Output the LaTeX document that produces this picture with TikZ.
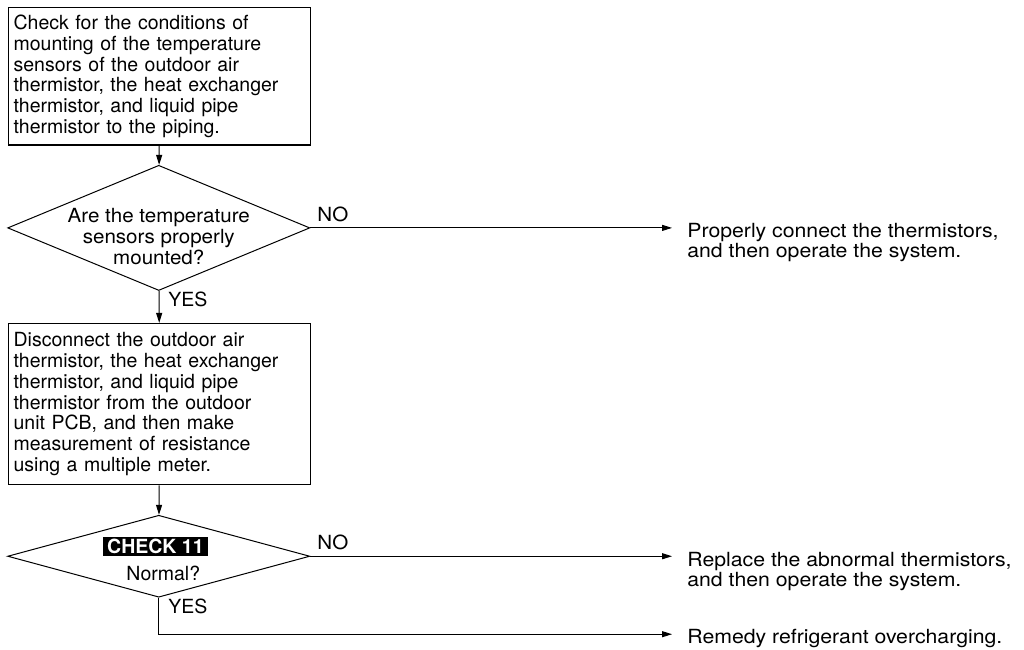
\documentclass[tikz,border=0pt]{standalone}
\usepackage{fontspec}
\setmainfont{TeX Gyre Heros}
\newfontfamily\qfont[FakeStretch=1.055]{TeX Gyre Heros}
\newfontfamily\widefont[FakeStretch=1.09]{TeX Gyre Heros}
\usetikzlibrary{arrows.meta,shapes.geometric}

\begin{document}
\begin{tikzpicture}[>={Triangle[length=5pt,width=3pt]}, line width=0.5pt,
  font=\fontsize{9.75}{10.4}\selectfont,
  stepbox/.style={draw, line width=0.65pt, anchor=north west, align=left,
    text width=146pt, inner xsep=2.5pt, inner ysep=3.5pt},
  query/.style={draw, diamond, minimum width=5.31cm, inner sep=0pt},
  fixtext/.style={anchor=north west, align=left, inner sep=0pt,
    font=\fontsize{9.75}{10}\widefont}]
  \useasboundingbox (0,0) rectangle (17.995,11.405);
  \node[stepbox, minimum height=2.41cm] (mount) at (0.14,11.28)
    {Check for the conditions of\\mounting of the temperature\\sensors of the outdoor air\\thermistor, the heat exchanger\\thermistor, and liquid pipe\\thermistor to the piping.};
  \node[query, minimum height=2.20cm] (q1) at (2.79,7.40) {};
  \node[align=center, inner sep=0pt, anchor=north, font=\fontsize{9.75}{10.6}\qfont] (q1txt) at (2.79,7.76)
    {Are the temperature\\sensors properly\\mounted?};
  \node[stepbox, minimum height=2.83cm] (meas) at (0.14,5.73)
    {Disconnect the outdoor air\\thermistor, the heat exchanger\\thermistor, and liquid pipe\\thermistor from the outdoor\\unit PCB, and then make\\measurement of resistance\\using a multiple meter.};
  \node[query, minimum height=1.44cm] (q2) at (2.79,1.63) {};
  \node[fill=black, text=white, font=\fontsize{9.75}{10.4}\selectfont\bfseries,
    minimum width=1.85cm, minimum height=0.32cm, inner sep=0pt] (chk) at (2.73,1.80) {CHECK 11};
  \node[anchor=base, inner sep=0pt] (normal) at (2.87,1.21) {Normal?};
  % answers
  \node[anchor=base west, inner sep=0pt, font=\fontsize{9.75}{10.4}\qfont] (no1) at (5.57,7.52) {NO};
  \node[anchor=base west, inner sep=0pt] (yes1) at (2.95,6.01) {YES};
  \node[anchor=base west, inner sep=0pt, font=\fontsize{9.75}{10.4}\qfont] (no2) at (5.57,1.74) {NO};
  \node[anchor=base west, inner sep=0pt] (yes2) at (2.95,0.63) {YES};
  % remedies
  \coordinate (e1) at (11.81,7.40);
  \coordinate (e2) at (11.81,1.63);
  \coordinate (e3) at (11.81,0.26);
  \node[fixtext] (fix1) at (12.07,7.49) {Properly connect the thermistors,\\and then operate the system.};
  \node[fixtext] (fix2) at (12.07,1.70) {Replace the abnormal thermistors,\\and then operate the system.};
  \node[fixtext] (fix3) at (12.07,0.35) {Remedy refrigerant overcharging.};
  % flow
  \draw[->] (mount) -- (q1);
  \draw[->] (q1) -- (meas);
  \draw[->] (meas) -- (q2);
  \draw[->] (q1.east) -- (e1);
  \draw[->] (q2.east) -- (e2);
  \draw[->] (q2.south) |- (e3);
\end{tikzpicture}
\end{document}
